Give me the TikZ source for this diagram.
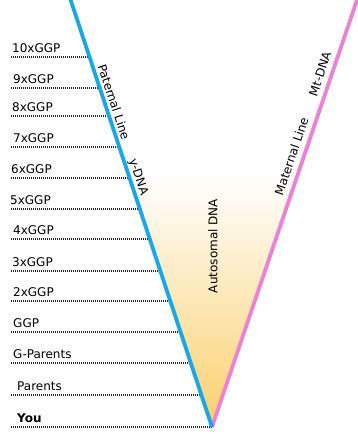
\documentclass[tikz,border=0pt]{standalone}
\usepackage{fontspec}
\setmainfont{DejaVu Sans}
\definecolor{patblue}{RGB}{27,166,232}
\definecolor{matpink}{RGB}{236,130,214}
\definecolor{gold}{RGB}{250,208,108}
\begin{document}
\begin{tikzpicture}[x=1pt,y=-1pt,
  lbl/.style={anchor=base west,inner sep=0pt,font=\fontsize{12}{14}\selectfont},
  rlbl/.style={inner sep=0pt,font=\fontsize{12}{14}\selectfont},
  dotline/.style={line width=1.3pt,dash pattern=on 1pt off 1pt,black!85},
  patline/.style={line width=3.8pt,patblue},
  matline/.style={line width=3.8pt,matpink}]
\useasboundingbox (0,0) rectangle (358,440);
\coordinate (top1) at (70,-2);
\coordinate (top2) at (357.7,-2);
\coordinate (vtx) at (212,427);
% gradient interior
\shade[top color=white,bottom color=gold]
  (128.2,175) -- (297.6,175) -- (vtx) -- cycle;
% generation lines
\foreach \i/\y/\lx/\t in {1/57/12/10xGGP,2/88/13/9xGGP,3/116/12/8xGGP,4/147/13/7xGGP,5/178/11/6xGGP,6/209/10/5xGGP,7/239/13/4xGGP,8/271/12/3xGGP,9/301/13/2xGGP,10/332/13/GGP,11/363/13/G-Parents,12/395/17/Parents}{
  \coordinate (s\i) at (11,\y);
  \coordinate (e\i) at ({70+0.33255*\y},\y);
  \draw[dotline] (s\i) -- (e\i);
  \node[lbl] (g\i) at (\lx,\y-5) {\t};
}
\coordinate (s13) at (11,427);
\draw[dotline] (s13) -- (vtx);
\node[lbl,font=\fontsize{12}{14}\selectfont\bfseries] (g13) at (17,422) {You};
% lines
\draw[matline] (vtx) -- (top2);
\draw[patline] (top1) -- (vtx);
% rotated labels
\node[rlbl,rotate=-71.6] (pl) at (114,102) {Paternal Line};
\node[rlbl,rotate=-71.6] (yd) at (138,177) {y-DNA};
\node[rlbl,rotate=71.25] (ml) at (291.5,156.5) {Maternal Line};
\node[rlbl,rotate=71.25] (md) at (320,74) {Mt-DNA};
\node[rlbl,rotate=90] (ad) at (213,246) {Autosomal DNA};
\end{tikzpicture}
\end{document}
